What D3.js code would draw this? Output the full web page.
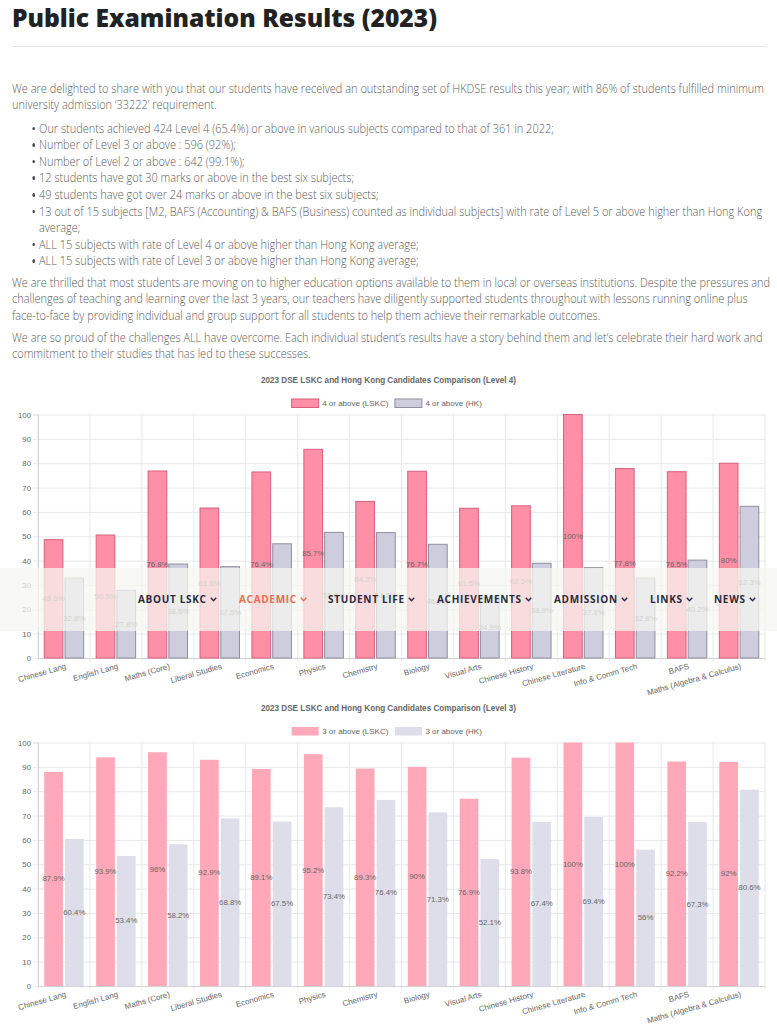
<!DOCTYPE html>
<html>
<head>
<meta charset="utf-8">
<script src="https://cdn.jsdelivr.net/npm/d3@7"></script>
<style>
  body { margin: 0; background: #fff; width: 777px; height: 1024px; overflow: hidden; position: relative; font-family: "Open Sans", sans-serif; }
  h1 { position: absolute; left: 12px; top: 0; margin: 0; font-size: 25px; font-weight: 800; color: #222; line-height: 34px; white-space: nowrap; transform-origin: 0 0; }
  .rule { position: absolute; left: 12px; width: 754px; top: 46px; border-top: 1.5px solid #e4e4e4; }
  .txt { position: absolute; left: 12px; font-size: 13.5px; color: #5b5b5b; line-height: 16.6px; white-space: nowrap; font-weight: 300; transform-origin: 0 0; }
  .txt.list { left: 39px; }
  .li { position: relative; }
  .li.first::before { content: ""; position: absolute; left: -8px; top: 7px; width: 3.3px; height: 3.5px; border-radius: 50%; background: #444; }
  .chart { position: absolute; left: 0; }
  .chart svg { overflow: visible; }
  .nav { position: absolute; left: 0; top: 568px; width: 777px; height: 63px; background: rgba(246, 246, 240, 0.75); z-index: 5; }
  .nav span { position: absolute; top: 24px; font-size: 10px; font-weight: 700; letter-spacing: 0.7px; color: #2b2a40; white-space: nowrap; line-height: 14px; }
  .nav span.on { color: #e2714f; }
  .nav svg { margin-left: 3px; vertical-align: 1px; }
</style>
</head>
<body>
<h1><span id="ttl">Public Examination Results (2023)</span></h1>
<div class="rule"></div>

<div class="txt" style="top:79.7px"><span id="line1">We are delighted to share with you that our students have received an outstanding set of HKDSE results this year; with 86% of students fulfilled minimum</span><br>university admission ‘33222’ requirement.</div>

<div class="txt list" style="top:119.7px">
  <div class="li first">Our students achieved 424 Level 4 (65.4%) or above in various subjects compared to that of 361 in 2022;</div>
  <div class="li first">Number of Level 3 or above : 596 (92%);</div>
  <div class="li first">Number of Level 2 or above : 642 (99.1%);</div>
  <div class="li first">12 students have got 30 marks or above in the best six subjects;</div>
  <div class="li first">49 students have got over 24 marks or above in the best six subjects;</div>
  <div class="li first">13 out of 15 subjects [M2, BAFS (Accounting) &amp; BAFS (Business) counted as individual subjects] with rate of Level 5 or above higher than Hong Kong</div>
  <div class="li">average;</div>
  <div class="li first">ALL 15 subjects with rate of Level 4 or above higher than Hong Kong average;</div>
  <div class="li first">ALL 15 subjects with rate of Level 3 or above higher than Hong Kong average;</div>
</div>

<div class="txt" style="top:273.7px">We are thrilled that most students are moving on to higher education options available to them in local or overseas institutions. Despite the pressures and<br>challenges of teaching and learning over the last 3 years, our teachers have diligently supported students throughout with lessons running online plus<br>face-to-face by providing individual and group support for all students to help them achieve their remarkable outcomes.</div>

<div class="txt" style="top:328.7px">We are so proud of the challenges ALL have overcome. Each individual student’s results have a story behind them and let’s celebrate their hard work and<br>commitment to their studies that has led to these successes.</div>

<div id="chart4" class="chart" style="top:365.5px"></div>
<div id="chart3" class="chart" style="top:694px"></div>

<div class="nav" id="nav"></div>

<script>
const subjects = ['Chinese Lang', 'English Lang', 'Maths (Core)', 'Liberal Studies', 'Economics', 'Physics', 'Chemistry',
  'Biology', 'Visual Arts', 'Chinese History', 'Chinese Literature', 'Info & Comm Tech', 'BAFS', 'Maths (Algebra & Calculus)'];
const level4Lskc = [48.6, 50.5, 76.8, 61.6, 76.4, 85.7, 64.3, 76.7, 61.5, 62.5, 100, 77.8, 76.5, 80];
const level4Hk = [32.8, 27.8, 38.6, 37.5, 46.9, 51.6, 51.5, 46.7, 24.9, 38.9, 37.1, 32.8, 40.2, 62.3];
const level3Lskc = [87.9, 93.9, 96, 92.9, 89.1, 95.2, 89.3, 90, 76.9, 93.8, 100, 100, 92.2, 92];
const level3Hk = [60.4, 53.4, 58.2, 68.8, 67.5, 73.4, 76.4, 71.3, 52.1, 67.4, 69.4, 56, 67.3, 80.6];
const yTicks = [0, 10, 20, 30, 40, 50, 60, 70, 80, 90, 100];
const navItems = ['ABOUT LSKC', 'ACADEMIC', 'STUDENT LIFE', 'ACHIEVEMENTS', 'ADMISSION', 'LINKS', 'NEWS'];
const navLeft = [138, 239, 328, 437, 554, 650, 714];

const chartFont = '"Liberation Sans", Arial, Helvetica, sans-serif';

// stretch the text blocks sideways so the lines are as wide as in the original page
function fitWidth(targets, probe, width) {
  const k = width / probe.getBoundingClientRect().width;
  targets.forEach(t => (t.style.transform = `scaleX(${k})`));
}
fitWidth([...document.querySelectorAll('.txt')], document.getElementById('line1'), 752);
fitWidth([document.querySelector('h1')], document.getElementById('ttl'), 425);

function drawChart(id, title, names, seriesA, seriesB, style) {
  const W = 777, H = 330;
  const m = { left: 38, right: 765, top: 48.5, bottom: 292 };

  const svg = d3.select(id).append('svg').attr('width', W).attr('height', H)
    .style('font-family', chartFont);

  const x0 = d3.scaleBand().domain(subjects).range([m.left, m.right]);
  const x1 = d3.scaleBand().domain([0, 1])
    .range([0.1 * x0.bandwidth(), 0.9 * x0.bandwidth()])
    .paddingInner(0.1).paddingOuter(0.05);
  const y = d3.scaleLinear().domain([0, 100]).range([m.bottom, m.top]);

  // title
  svg.append('text')
    .attr('x', W / 2).attr('y', 14.5)
    .attr('text-anchor', 'middle').attr('dominant-baseline', 'central')
    .style('font-size', '8.15px').style('font-weight', 'bold').style('fill', '#666')
    .text(title);

  // legend
  const leg = svg.append('g');
  let lx = 0;
  names.forEach((n, i) => {
    leg.append('rect')
      .attr('x', lx + 0.5).attr('y', 33).attr('width', 27).attr('height', 8.5)
      .attr('fill', style.fill[i])
      .attr('stroke', style.stroke ? style.stroke[i] : 'none');
    const t = leg.append('text')
      .attr('x', lx + 31).attr('y', 37.5).attr('dominant-baseline', 'central')
      .style('font-size', '8px').style('fill', '#666').text(n);
    lx += 31 + t.node().getComputedTextLength() + 6;
  });
  leg.attr('transform', `translate(${(W - (lx - 6)) / 2 - 2},0)`);

  // horizontal grid
  svg.append('g')
    .attr('transform', `translate(${m.left},0)`)
    .call(d3.axisLeft(y).tickValues(yTicks).tickSize(-(m.right - m.left)).tickFormat(''))
    .call(g => g.select('.domain').remove())
    .call(g => g.selectAll('line').attr('stroke', '#e8e8e8'));

  // vertical grid at category edges
  svg.append('g').selectAll('line')
    .data(subjects.map(s => x0(s)).concat([m.right]))
    .join('line')
    .attr('x1', d => d).attr('x2', d => d)
    .attr('y1', m.top).attr('y2', m.bottom + 4)
    .attr('stroke', '#e8e8e8');

  // y axis
  svg.append('g')
    .attr('transform', `translate(${m.left},0)`)
    .call(d3.axisLeft(y).tickValues(yTicks).tickSize(5).tickPadding(2))
    .call(g => g.select('.domain').attr('stroke', '#d4d4d4'))
    .call(g => g.selectAll('.tick line').attr('stroke', '#e8e8e8'))
    .call(g => g.selectAll('.tick text').style('font-size', '7.8px').style('fill', '#666')
      .style('font-family', chartFont));

  // x axis
  svg.append('g')
    .attr('transform', `translate(0,${m.bottom})`)
    .call(d3.axisBottom(x0).tickSize(0).tickFormat(''))
    .call(g => g.select('.domain').attr('stroke', '#d4d4d4'));

  svg.append('g').selectAll('text')
    .data(subjects)
    .join('text')
    .attr('transform', d => `translate(${x0(d) + x0.bandwidth() / 2 + 1},${m.bottom + 5}) rotate(-16)`)
    .attr('text-anchor', 'end').attr('dy', '0.72em')
    .style('font-size', '8px').style('fill', '#666')
    .text(d => d);

  // bars
  [seriesA, seriesB].forEach((series, i) => {
    const g = svg.append('g');
    g.selectAll('rect')
      .data(series)
      .join('rect')
      .attr('x', (d, j) => x0(subjects[j]) + x1(i))
      .attr('width', x1.bandwidth())
      .attr('y', d => y(d))
      .attr('height', d => y(0) - y(d))
      .attr('fill', style.fill[i])
      .attr('stroke', style.stroke ? style.stroke[i] : 'none')
      .attr('stroke-width', 1);
  });

  // value labels in the middle of each bar
  [seriesA, seriesB].forEach((series, i) => {
    svg.append('g').selectAll('text')
      .data(series)
      .join('text')
      .attr('x', (d, j) => x0(subjects[j]) + x1(i) + x1.bandwidth() / 2)
      .attr('y', d => (y(d) + y(0)) / 2)
      .attr('text-anchor', 'middle').attr('dominant-baseline', 'central')
      .style('font-size', '7.8px').style('fill', '#666')
      .text(d => d + '%');
  });
}

drawChart('#chart4', '2023 DSE LSKC and Hong Kong Candidates Comparison (Level 4)',
  ['4 or above (LSKC)', '4 or above (HK)'], level4Lskc, level4Hk,
  { fill: ['#ff8fa7', '#cdcddd'], stroke: ['#d8607e', '#8e8e9e'] });

drawChart('#chart3', '2023 DSE LSKC and Hong Kong Candidates Comparison (Level 3)',
  ['3 or above (LSKC)', '3 or above (HK)'], level3Lskc, level3Hk,
  { fill: ['#ffa8b9', '#dedeea'] });

// navigation bar that sits over the first chart
const nav = d3.select('#nav');
navItems.forEach((n, i) => {
  const s = nav.append('span').attr('class', i === 1 ? 'on' : null).style('left', navLeft[i] + 'px').text(n);
  s.append('svg').attr('width', 7).attr('height', 5)
    .append('polyline').attr('points', '0.8,0.8 3.5,3.8 6.2,0.8')
    .attr('fill', 'none').attr('stroke', 'currentColor').attr('stroke-width', 1.4);
});
</script>
</body>
</html>
